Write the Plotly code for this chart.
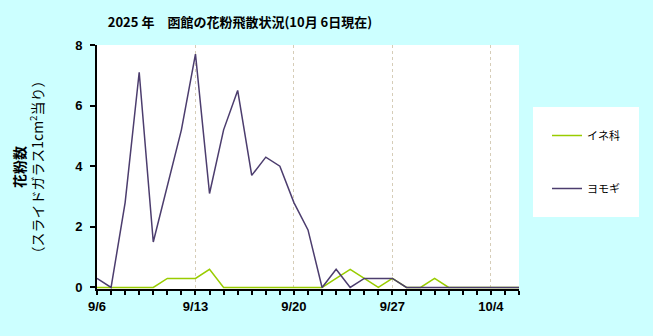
import plotly.graph_objects as go
import pandas as pd

start_date = "2025-09-06"
n_days = 31
dates = pd.date_range(start_date, periods=n_days, freq="D")

ine = [0, 0, 0, 0, 0, 0.3, 0.3, 0.3, 0.6, 0, 0, 0, 0, 0, 0, 0,
       0, 0.3, 0.6, 0.3, 0, 0.3, 0, 0, 0.3, 0, 0, 0, 0, 0, 0]
yomogi = [0.3, 0, 2.8, 7.1, 1.5, 3.4, 5.2, 7.7, 3.1, 5.2, 6.5, 3.7, 4.3, 4.0, 2.8, 1.9,
          0, 0.6, 0, 0.3, 0.3, 0.3, 0, 0, 0, 0, 0, 0, 0, 0, 0]

tick_dates = ["2025-09-06", "2025-09-13", "2025-09-20", "2025-09-27", "2025-10-04"]
tick_text = ["9/6", "9/13", "9/20", "9/27", "10/4"]

title_text = "2025 年　函館の花粉飛散状況(10月 6日現在)"
ytitle = "<b>花粉数</b><br>（スライドガラス1cm<sup>2</sup>当り）"

jp = "Noto Sans CJK JP"
lat = "Liberation Sans"

L, R, T, B = 97, 134, 45, 47
W, H = 653, 336
pw, ph = W - L - R, H - T - B

fig = go.Figure()
fig.add_trace(go.Scatter(x=dates, y=ine, mode="lines", name="イネ科",
                         line=dict(color="#99CC00", width=1.5), legendgroup="a"))
fig.add_trace(go.Scatter(x=dates, y=yomogi, mode="lines", name="ヨモギ",
                         line=dict(color="#4C3D6E", width=1.5), legendgroup="b"))

fig.update_layout(
    width=W, height=H,
    paper_bgcolor="#CCFFFF", plot_bgcolor="white",
    margin=dict(l=L, r=R, t=T, b=B),
    title=dict(text=title_text, x=240/W, xanchor="center", y=1-22/H, yanchor="middle",
               font=dict(family=jp, size=13, color="black", weight="bold")),
    showlegend=True,
    legend=dict(x=(533 - L)/pw, xanchor="left", y=(H - B - 107)/ph, yanchor="top",
                bgcolor="white", bordercolor="white", borderwidth=14,
                font=dict(family=jp, size=11, color="black"),
                tracegroupgap=34, itemwidth=30),
)

fig.update_xaxes(
    range=[dates[0], dates[-1]],
    tickvals=pd.to_datetime(tick_dates), ticktext=tick_text,
    ticks="outside", ticklen=4, tickwidth=2, tickcolor="black",
    showline=True, linecolor="black", linewidth=2,
    showgrid=True, gridcolor="#D6CDB8", griddash="dot", gridwidth=1,
    tickfont=dict(family=lat, size=13, color="black", weight="bold"),
    minor=dict(dtick=86400000, ticks="outside", ticklen=4, tickwidth=2, tickcolor="black", showgrid=False),
    zeroline=False,
)
fig.update_yaxes(
    range=[-0.05, 8], tickvals=[0, 2, 4, 6, 8],
    ticks="outside", ticklen=5, tickwidth=2, tickcolor="black",
    showline=True, linecolor="black", linewidth=2,
    showgrid=False, zeroline=False, ticklabelstandoff=5,
    tickfont=dict(family=lat, size=13, color="black", weight="bold"),
    title=dict(text=ytitle, font=dict(family=jp, size=14, color="black"), standoff=28),
)

fig.write_html("out.html")
